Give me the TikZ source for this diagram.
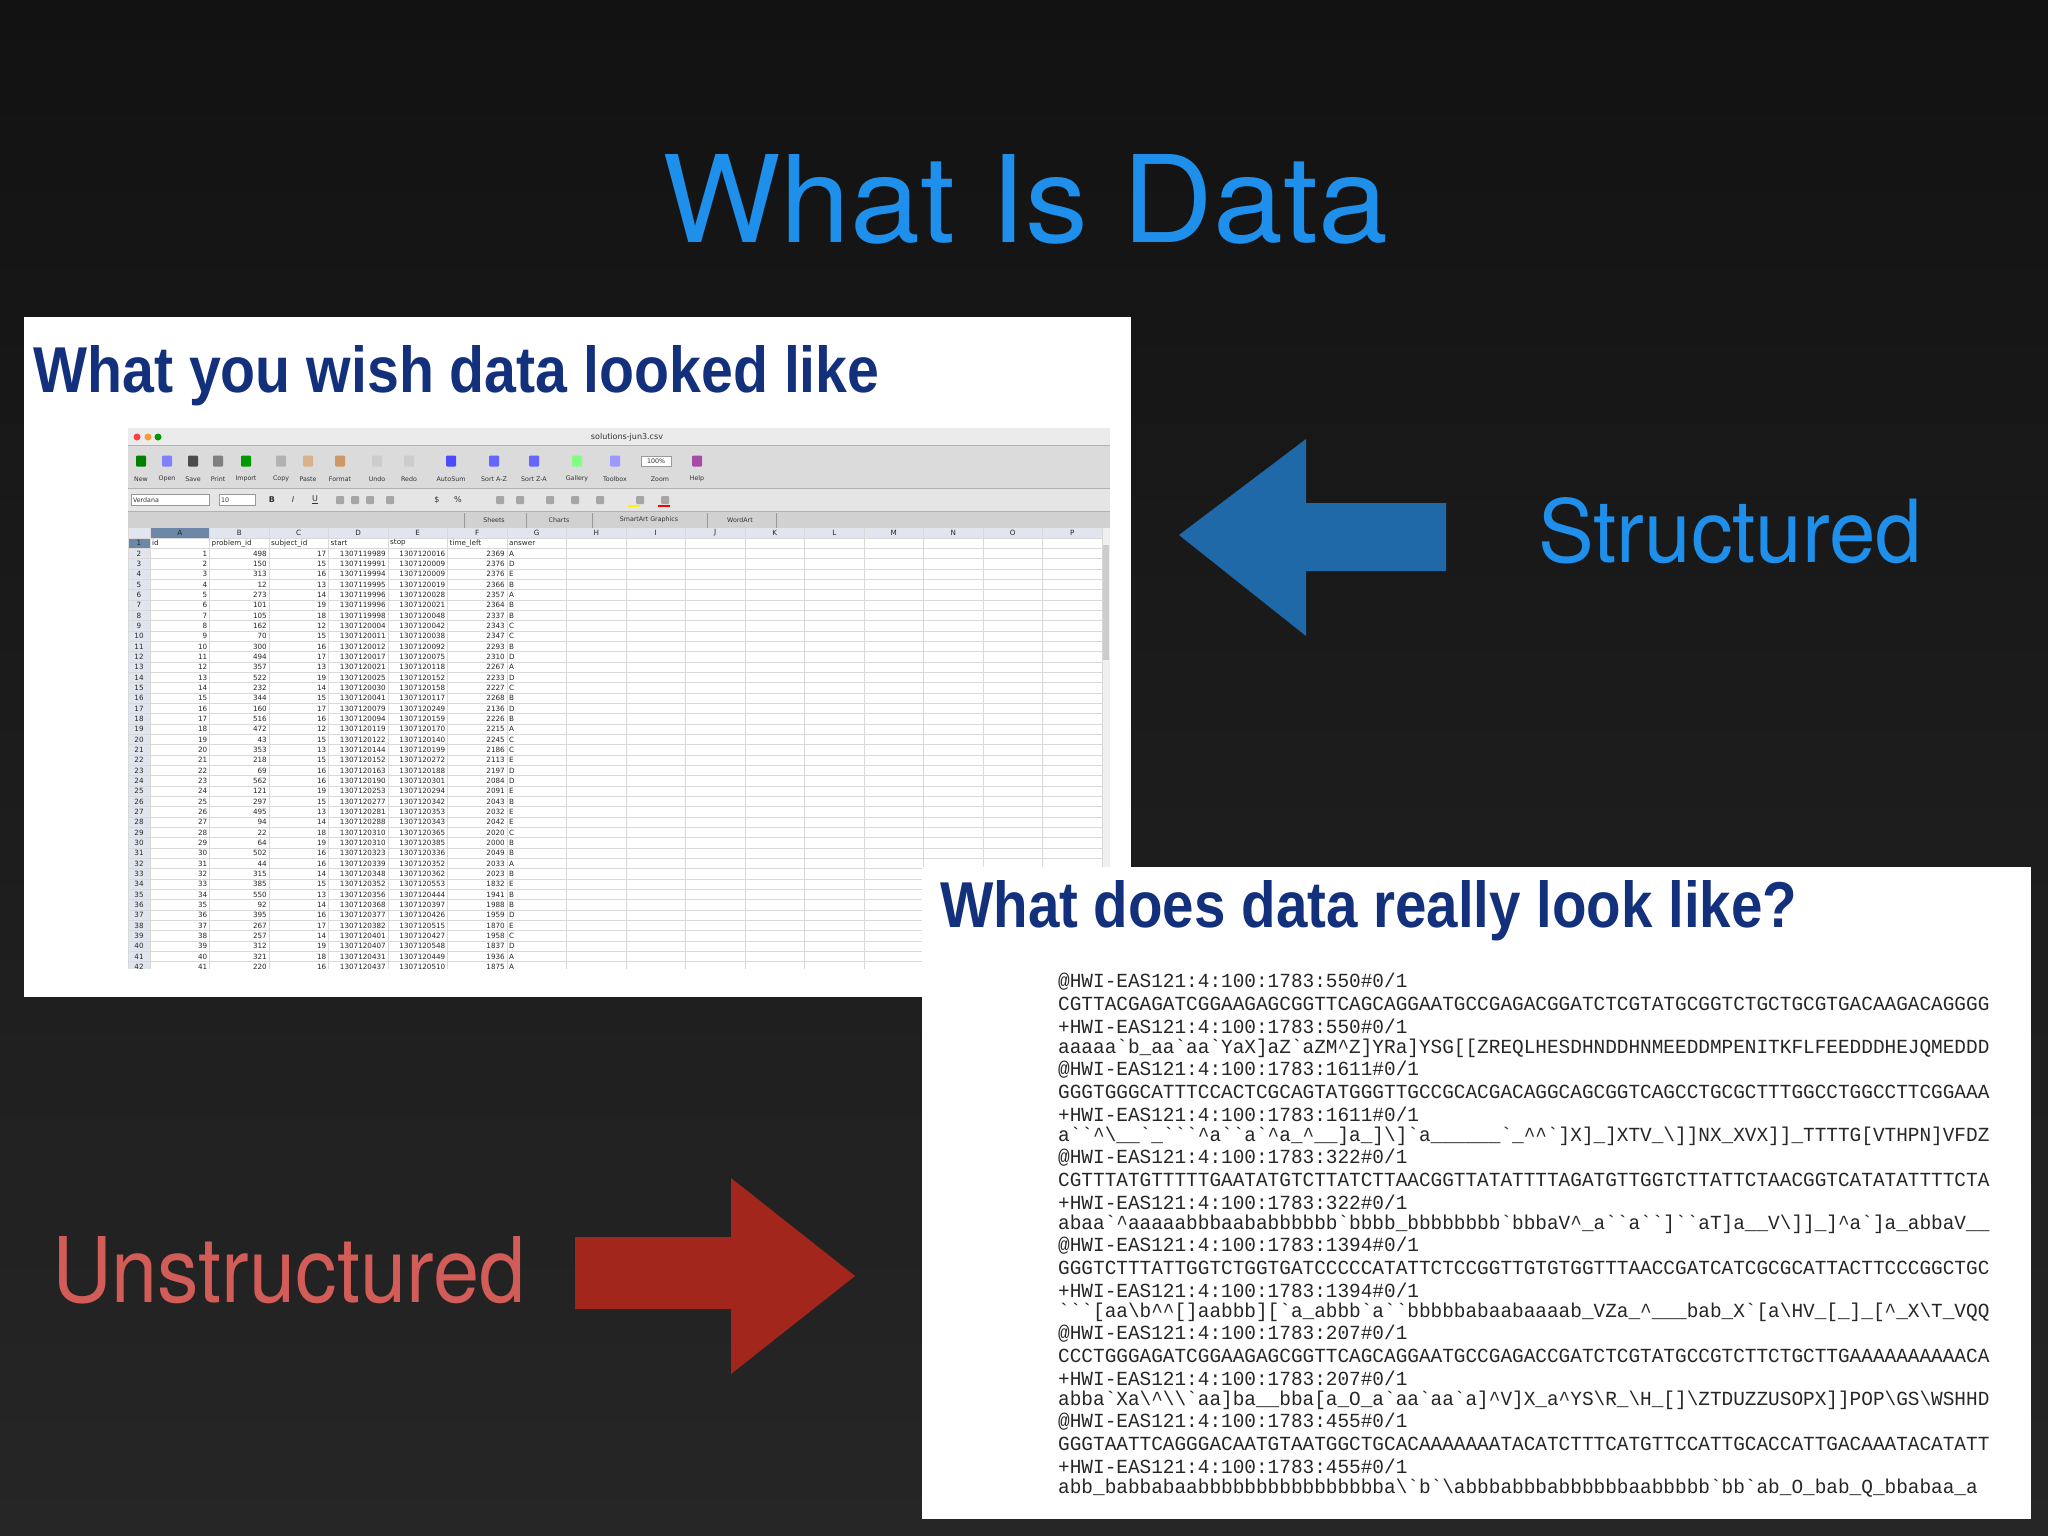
\documentclass[tikz,border=0pt]{standalone}
\usepackage{fontspec}
\usepackage{graphicx}
\setmainfont{TeX Gyre Heros}
\newfontfamily\arial{Liberation Sans}
\newfontfamily\dv{DejaVu Sans}
\newfontfamily\fq{Liberation Mono}
\def\G{\symbol{96}}\def\C{\symbol{94}}\def\U{\symbol{95}}\def\B{\symbol{92}}
\definecolor{bgtop}{HTML}{121212}
\definecolor{bgbot}{HTML}{262626}
\definecolor{titleblue}{HTML}{1E90EC}
\definecolor{navy}{HTML}{13307C}
\definecolor{arrblue}{HTML}{1F69A8}
\definecolor{arrred}{HTML}{A3261C}
\definecolor{ured}{HTML}{D25C57}
\definecolor{grid}{HTML}{D9D9D9}
\definecolor{rowhead}{HTML}{E1E6EE}
\definecolor{selhead}{HTML}{6D87A8}
\tikzset{
  cell/.style={inner sep=0pt,font=\dv\fontsize{7.2}{8}\selectfont,text=black!85},
  tb/.style={inner sep=0pt,font=\dv\fontsize{6.3}{7}\selectfont,text=black!80},
  fqline/.style={anchor=west,inner sep=0pt,xscale=0.97,font=\fq\fontsize{20}{20}\selectfont,text=black!85},
  panel/.style={fill=white,draw=none},
  icon/.style={minimum width=10pt,minimum height=11pt,inner sep=0pt,rounded corners=1pt}
}
\begin{document}
\begin{tikzpicture}[x=1pt,y=-1pt]
\shade[top color=bgtop,bottom color=bgbot] (0,0) rectangle (2048,1536);
\useasboundingbox (0,0) rectangle (2048,1536);
% title
\node[anchor=base,inner sep=0pt,text=titleblue] (title) at (1025,242) {\resizebox{725pt}{88pt}{What Is Data}};
% panel 1
\node[panel,anchor=north west,minimum width=1107pt,minimum height=680pt,inner sep=0pt] (p1) at (24,317) {};
\node[anchor=base west,inner sep=0pt,text=navy] (h1) at (33,392) {\resizebox{846pt}{47pt}{\arial\bfseries What you wish data looked like}};
% spreadsheet
\begin{scope}
\clip (128,428) rectangle (1110,969);
\fill[black!8] (128,428) rectangle (1110,445);
\fill[black!14] (128,445) rectangle (1110,488);
\fill[black!10] (128,488) rectangle (1110,511);
\fill[black!18] (128,511) rectangle (1110,528);
\draw[black!30] (128,445) -- (1110,445) (128,488) -- (1110,488) (128,511) -- (1110,511);
\fill[red!75] (137,437) circle (3.5);
\fill[orange!80] (148,437) circle (3.5);
\fill[green!60!black] (158,437) circle (3.5);
\node[tb,font=\dv\fontsize{8}{9}\selectfont] (fname) at (627,437) {solutions-jun3.csv};
% toolbar
\foreach \x/\l/\c in {141/New/green!50!black,167/Open/blue!50,193/Save/black!70,218/Print/black!50,246/Import/green!60!black,281/Copy/black!30,308/Paste/brown!60,340/Format/brown!80,377/Undo/black!20,409/Redo/black!20,451/AutoSum/blue!70,494/Sort A-Z/blue!60,534/Sort Z-A/blue!60,577/Gallery/green!50,615/Toolbox/blue!40,697/Help/violet!70}{
  \node[icon,fill=\c] (ic\x) at (\x,461) {};
  \node[tb] (lb\x) at (\x,479) {\l};
}
\node[tb] (lbzoom) at (660,479) {Zoom};
\node[tb,fill=white,draw=black!40,minimum width=30pt,minimum height=10pt] (zoom) at (656,461) {100\%};
% format bar
\node[tb,fill=white,draw=black!40,minimum width=78pt,minimum height=11pt,text width=74pt,align=left] (fontbox) at (170,500) {Verdana};
\node[tb,fill=white,draw=black!40,minimum width=36pt,minimum height=11pt,text width=32pt,align=left] (sizebox) at (237,500) {10};
\foreach \x/\l in {272/\textbf{B},293/\textit{I},315/\underline{U},437/\$,458/\%}{\node[tb,font=\dv\fontsize{8}{9}\selectfont] (fb\x) at (\x,500) {\l};}
\foreach \x in {340,355,370,390,500,520,550,575,600,640,665}{\node[icon,fill=black!35,minimum width=8pt,minimum height=8pt] (fi\x) at (\x,500) {};}
\fill[yellow] (628,505) rectangle (640,507);
\fill[red] (658,505) rectangle (670,507);
% tabs
\foreach \x in {464,526,592,707,776}{\draw[black!40] (\x,513) -- (\x,528);}
\foreach \x/\l in {494/Sheets,559/Charts,649/SmartArt Graphics,740/WordArt}{\node[tb] (tab\x) at (\x,520) {\l};}
% grid
\fill[rowhead] (128,528) rectangle (1102,538);
\fill[rowhead] (128,538) rectangle (150,969);
\fill[selhead] (150,528) rectangle (209.5,538);
\fill[selhead] (128,538) rectangle (150,548.3);
\fill[black!6] (1102,528) rectangle (1110,969);
\fill[black!20] (1103,545) rectangle (1109,660);
\foreach \k in {0,...,42}{\draw[grid] (128,{538+\k*10.33}) -- (1102,{538+\k*10.33});}
\foreach \i in {0,...,16}{\draw[grid] ({150+59.5*\i},528) -- ({150+59.5*\i},969);}
\draw[grid] (128,528) -- (128,969);
\foreach \L [count=\i from 0] in {A,B,C,D,E,F,G,H,I,J,K,L,M,N,O,P}{\node[cell] (col\L) at ({179.75+59.5*\i},533) {\L};}
\foreach \k in {1,...,42}{\node[cell] (rn\k) at (139,{533+\k*10.33}) {\k};}
\foreach \l/\i in {id/0,problem\_id/1,subject\_id/2,start/3,stop/4,time\_left/5,answer/6}{\node[cell,anchor=west] (hd\i) at ({152+59.5*\i},543.2) {\l};}
\foreach \a/\b/\c/\d/\e/\f/\g [count=\n] in {
1/498/17/1307119989/1307120016/2369/A,2/150/15/1307119991/1307120009/2376/D,3/313/16/1307119994/1307120009/2376/E,
4/12/13/1307119995/1307120019/2366/B,5/273/14/1307119996/1307120028/2357/A,6/101/19/1307119996/1307120021/2364/B,
7/105/18/1307119998/1307120048/2337/B,8/162/12/1307120004/1307120042/2343/C,9/70/15/1307120011/1307120038/2347/C,
10/300/16/1307120012/1307120092/2293/B,11/494/17/1307120017/1307120075/2310/D,12/357/13/1307120021/1307120118/2267/A,
13/522/19/1307120025/1307120152/2233/D,14/232/14/1307120030/1307120158/2227/C,15/344/15/1307120041/1307120117/2268/B,
16/160/17/1307120079/1307120249/2136/D,17/516/16/1307120094/1307120159/2226/B,18/472/12/1307120119/1307120170/2215/A,
19/43/15/1307120122/1307120140/2245/C,20/353/13/1307120144/1307120199/2186/C,21/218/15/1307120152/1307120272/2113/E,
22/69/16/1307120163/1307120188/2197/D,23/562/16/1307120190/1307120301/2084/D,24/121/19/1307120253/1307120294/2091/E,
25/297/15/1307120277/1307120342/2043/B,26/495/13/1307120281/1307120353/2032/E,27/94/14/1307120288/1307120343/2042/E,
28/22/18/1307120310/1307120365/2020/C,29/64/19/1307120310/1307120385/2000/B,30/502/16/1307120323/1307120336/2049/B,
31/44/16/1307120339/1307120352/2033/A,32/315/14/1307120348/1307120362/2023/B,33/385/15/1307120352/1307120553/1832/E,
34/550/13/1307120356/1307120444/1941/B,35/92/14/1307120368/1307120397/1988/B,36/395/16/1307120377/1307120426/1959/D,
37/267/17/1307120382/1307120515/1870/E,38/257/14/1307120401/1307120427/1958/C,39/312/19/1307120407/1307120548/1837/D,
40/321/18/1307120431/1307120449/1936/A,41/220/16/1307120437/1307120510/1875/A}{
  \pgfmathsetmacro\yy{543.2+\n*10.33}
  \node[cell,anchor=east] (ca\n) at (207.5,\yy) {\a};
  \node[cell,anchor=east] (cb\n) at (267,\yy) {\b};
  \node[cell,anchor=east] (cc\n) at (326.5,\yy) {\c};
  \node[cell,anchor=east] (cd\n) at (386,\yy) {\d};
  \node[cell,anchor=east] (ce\n) at (445.5,\yy) {\e};
  \node[cell,anchor=east] (cf\n) at (505,\yy) {\f};
  \node[cell,anchor=west] (cg\n) at (509,\yy) {\g};
}
\end{scope}
% arrows
\fill[arrblue] (1179,535) -- (1306,439) -- (1306,503) -- (1446,503) -- (1446,571) -- (1306,571) -- (1306,636) -- cycle;
\node[anchor=base west,inner sep=0pt,text=titleblue] (structured) at (1538,562) {\resizebox{384pt}{65pt}{Structured}};
\node[anchor=base west,inner sep=0pt,text=ured] (unstructured) at (52,1302) {\resizebox{473pt}{66pt}{Unstructured}};
\fill[arrred] (855,1276) -- (731,1178) -- (731,1237) -- (575,1237) -- (575,1309) -- (731,1309) -- (731,1374) -- cycle;
% panel 2
\node[panel,anchor=north west,minimum width=1109pt,minimum height=652pt,inner sep=0pt] (p2) at (922,867) {};
\node[anchor=base west,inner sep=0pt,text=navy] (h2) at (940,927) {\resizebox{857pt}{47pt}{\arial\bfseries What does data really look like?}};
\begin{scope}
\clip (922,867) rectangle (2031,1519);
\def\yy#1{982+#1*22}
\node[fqline] (l1) at (1058,{\yy{0}}) {@HWI-EAS121:4:100:1783:550\#0/1};
\node[fqline] (l2) at (1058,{\yy{1}}) {CGTTACGAGATCGGAAGAGCGGTTCAGCAGGAATGCCGAGACGGATCTCGTATGCGGTCTGCTGCGTGACAAGACAGGGG};
\node[fqline] (l3) at (1058,{\yy{2}}) {+HWI-EAS121:4:100:1783:550\#0/1};
\node[fqline] (l4) at (1058,{\yy{3}}) {aaaaa\G{}b\U{}aa\G{}aa\G{}YaX]aZ\G{}aZM\C{}Z]YRa]YSG[[ZREQLHESDHNDDHNMEEDDMPENITKFLFEEDDDHEJQMEDDD};
\node[fqline] (l5) at (1058,{\yy{4}}) {@HWI-EAS121:4:100:1783:1611\#0/1};
\node[fqline] (l6) at (1058,{\yy{5}}) {GGGTGGGCATTTCCACTCGCAGTATGGGTTGCCGCACGACAGGCAGCGGTCAGCCTGCGCTTTGGCCTGGCCTTCGGAAA};
\node[fqline] (l7) at (1058,{\yy{6}}) {+HWI-EAS121:4:100:1783:1611\#0/1};
\node[fqline] (l8) at (1058,{\yy{7}}) {a\G{}\G{}\C{}\B{}\U{}\U{}\G{}\U{}\G{}\G{}\G{}\C{}a\G{}\G{}a\G{}\C{}a\U{}\C{}\U{}\U{}]a\U{}]\B{}]\G{}a\U{}\U{}\U{}\U{}\U{}\U{}\G{}\U{}\C{}\C{}\G{}]X]\U{}]XTV\U{}\B{}]]NX\U{}XVX]]\U{}TTTTG[VTHPN]VFDZ};
\node[fqline] (l9) at (1058,{\yy{8}}) {@HWI-EAS121:4:100:1783:322\#0/1};
\node[fqline] (l10) at (1058,{\yy{9}}) {CGTTTATGTTTTTGAATATGTCTTATCTTAACGGTTATATTTTAGATGTTGGTCTTATTCTAACGGTCATATATTTTCTA};
\node[fqline] (l11) at (1058,{\yy{10}}) {+HWI-EAS121:4:100:1783:322\#0/1};
\node[fqline] (l12) at (1058,{\yy{11}}) {abaa\G{}\C{}aaaaabbbaababbbbbb\G{}bbbb\U{}bbbbbbbb\G{}bbbaV\C{}\U{}a\G{}\G{}a\G{}\G{}]\G{}\G{}aT]a\U{}\U{}V\B{}]]\U{}]\C{}a\G{}]a\U{}abbaV\U{}\U{}};
\node[fqline] (l13) at (1058,{\yy{12}}) {@HWI-EAS121:4:100:1783:1394\#0/1};
\node[fqline] (l14) at (1058,{\yy{13}}) {GGGTCTTTATTGGTCTGGTGATCCCCCATATTCTCCGGTTGTGTGGTTTAACCGATCATCGCGCATTACTTCCCGGCTGC};
\node[fqline] (l15) at (1058,{\yy{14}}) {+HWI-EAS121:4:100:1783:1394\#0/1};
\node[fqline] (l16) at (1058,{\yy{15}}) {\G{}\G{}\G{}[aa\B{}b\C{}\C{}[]aabbb][\G{}a\U{}abbb\G{}a\G{}\G{}bbbbbabaabaaaab\U{}VZa\U{}\C{}\U{}\U{}\U{}bab\U{}X\G{}[a\B{}HV\U{}[\U{}]\U{}[\C{}\U{}X\B{}T\U{}VQQ};
\node[fqline] (l17) at (1058,{\yy{16}}) {@HWI-EAS121:4:100:1783:207\#0/1};
\node[fqline] (l18) at (1058,{\yy{17}}) {CCCTGGGAGATCGGAAGAGCGGTTCAGCAGGAATGCCGAGACCGATCTCGTATGCCGTCTTCTGCTTGAAAAAAAAAACA};
\node[fqline] (l19) at (1058,{\yy{18}}) {+HWI-EAS121:4:100:1783:207\#0/1};
\node[fqline] (l20) at (1058,{\yy{19}}) {abba\G{}Xa\B{}\C{}\B{}\B{}\G{}aa]ba\U{}\U{}bba[a\U{}O\U{}a\G{}aa\G{}aa\G{}a]\C{}V]X\U{}a\C{}YS\B{}R\U{}\B{}H\U{}[]\B{}ZTDUZZUSOPX]]POP\B{}GS\B{}WSHHD};
\node[fqline] (l21) at (1058,{\yy{20}}) {@HWI-EAS121:4:100:1783:455\#0/1};
\node[fqline] (l22) at (1058,{\yy{21}}) {GGGTAATTCAGGGACAATGTAATGGCTGCACAAAAAAATACATCTTTCATGTTCCATTGCACCATTGACAAATACATATT};
\node[fqline] (l23) at (1058,{\yy{22}}) {+HWI-EAS121:4:100:1783:455\#0/1};
\node[fqline] (l24) at (1058,{\yy{23}}) {abb\U{}babbabaabbbbbbbbbbbbbbbba\B{}\G{}b\G{}\B{}abbbabbbabbbbbbaabbbbb\G{}bb\G{}ab\U{}O\U{}bab\U{}Q\U{}bbabaa\U{}a};
\end{scope}
\end{tikzpicture}
\end{document}
